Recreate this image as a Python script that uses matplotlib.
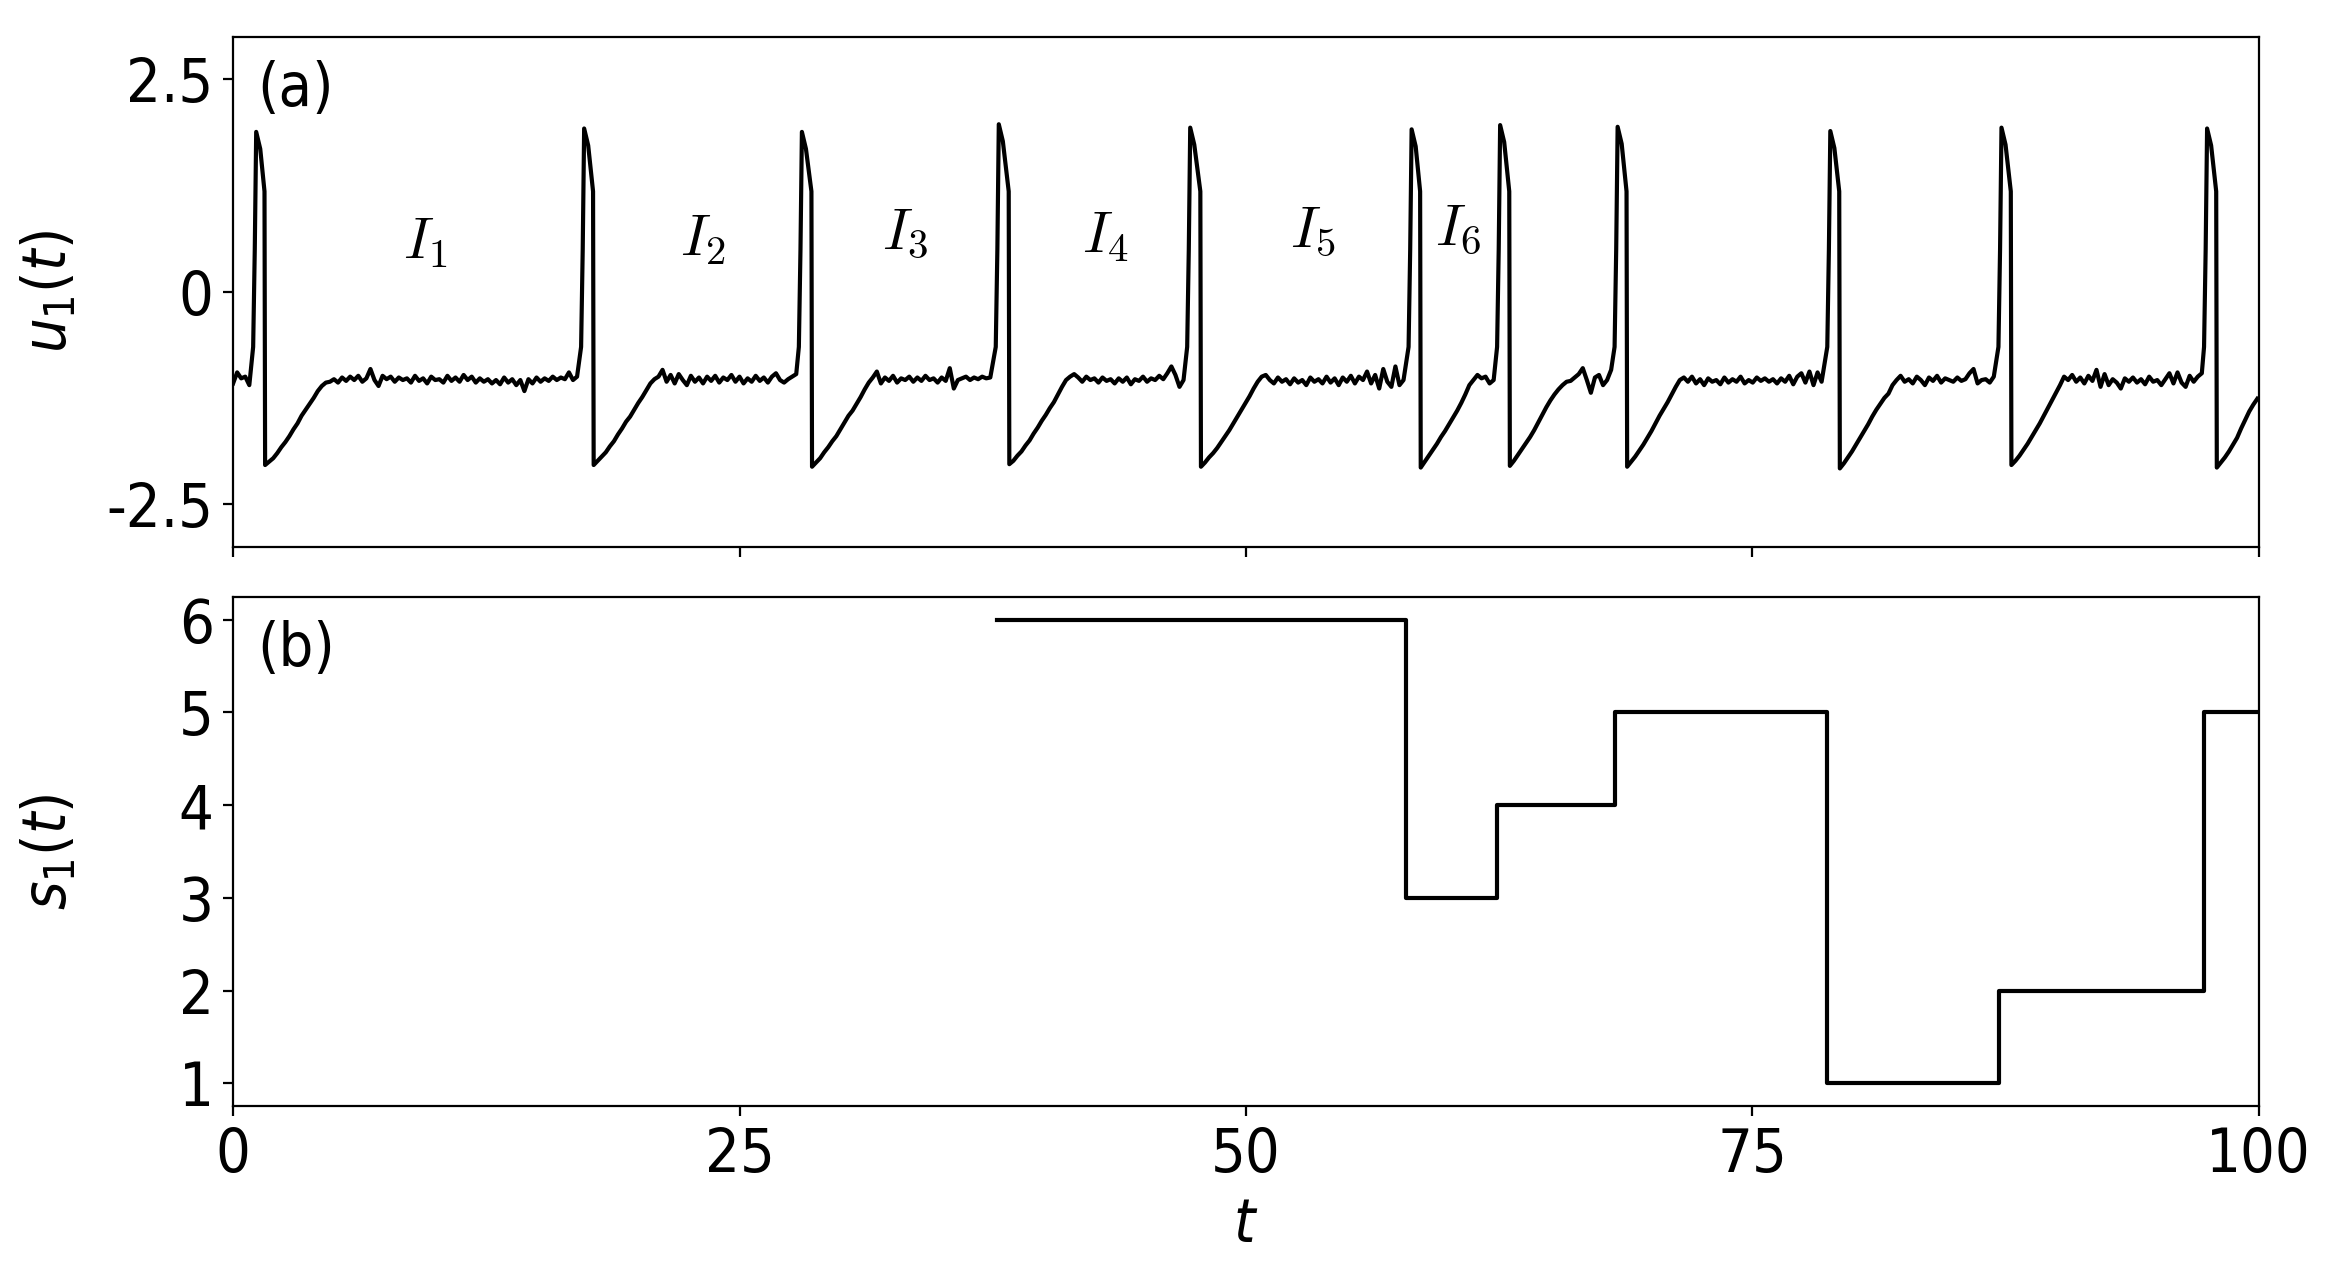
import numpy as np
import matplotlib.pyplot as plt

plt.rcParams['font.family'] = ['DejaVu Sans']
plt.rcParams['font.stretch'] = 'condensed'
plt.rcParams['font.size'] = 22
plt.rcParams['mathtext.fontset'] = 'dejavusans'

# panel (a): spikes of u1 -- peak time, peak value, time of the fast drop
peak_t = [1.14, 17.33, 28.08, 37.80, 47.25, 58.18, 62.55, 68.35, 78.85, 87.30, 97.45]
peak_u = [1.88, 1.92, 1.88, 1.97, 1.93, 1.91, 1.96, 1.94, 1.89, 1.93, 1.92]
drop_t = [1.58, 17.80, 28.58, 38.32, 47.78, 58.63, 63.03, 68.82, 79.32, 87.79, 97.93]

# u1 read every 0.2 time units, in hundredths
step = 0.2
lead_u = [-108, -95, -102, -100, -110]  # t = 0 .. 0.8
after_u = [
    [-204, -200, -196, -190, -183, -177, -170, -162, -155, -146, -139, -132, -125, -117, -111, -107,
     -106, -103, -107, -101, -105, -100, -104, -99, -106, -102,
     -91, -104, -111, -99, -103, -100, -106, -101, -104, -102,
     -107, -99, -105, -102, -108, -100, -104, -103, -107, -99,
     -105, -101, -106, -98, -104, -100, -107, -102, -106, -103,
     -108, -104, -109, -101, -107, -103, -110, -104, -117, -103,
     -108, -101, -106, -102, -105, -100, -104, -101, -103, -95,
     -104, -100],
    [-204, -199, -194, -189, -182, -176, -168, -161, -153, -147, -139, -131, -124, -116, -108, -103,
     -100, -92, -106, -98, -108, -97, -104, -110, -99, -106,
     -101, -108, -100, -105, -99, -107, -101, -104, -98, -106,
     -100, -108, -102, -106, -99, -105, -101, -107, -100, -96,
     -104, -107, -103, -100, -97],
    [-206, -201, -196, -189, -183, -176, -170, -162, -154, -146, -140, -132, -124, -115, -107, -101,
     -94, -108, -101, -105, -99, -107, -102, -104, -100, -106,
     -101, -105, -99, -104, -102, -107, -101, -105, -90, -114,
     -104, -102, -100, -104, -101, -103, -100, -102, -101],
    [-203, -199, -193, -188, -181, -175, -167, -160, -152, -145, -137, -130, -121, -112, -104, -100,
     -97, -101, -106, -100, -104, -102, -107, -101, -105, -103,
     -108, -102, -106, -101, -109, -103, -105, -100, -106, -102,
     -104, -99, -103, -96, -88, -98, -112, -104],
    [-206, -201, -195, -190, -184, -177, -170, -163, -155, -147, -139, -131, -123, -114, -106, -100,
     -98, -104, -108, -101, -106, -103, -109, -102, -107, -104,
     -110, -101, -106, -103, -108, -100, -107, -102, -110, -101,
     -106, -99, -108, -100, -104, -94, -108, -98, -114, -91,
     -106, -112, -88, -110, -104],
    [-207, -200, -193, -186, -179, -171, -164, -156, -148, -140, -131, -121, -110, -104, -98, -102,
     -100, -108, -104],
    [-205, -199, -192, -185, -178, -171, -163, -154, -145, -136, -128, -121, -115, -110, -106, -105,
     -101, -97, -90, -104, -119, -101, -98, -110, -104, -92],
    [-206, -200, -194, -187, -180, -172, -164, -155, -146, -138, -130, -121, -112, -104,
     -101, -106, -100, -108, -103, -110, -102, -106, -104, -109,
     -101, -107, -103, -106, -100, -108, -104, -107, -101, -105,
     -102, -106, -103, -108, -102, -106, -99, -109, -100, -96,
     -107, -94, -110, -95, -106],
    [-208, -202, -195, -188, -180, -172, -164, -156, -147, -139, -132, -125, -120, -110, -104,
     -99, -106, -103, -108, -100, -104, -110, -101, -105, -99,
     -107, -102, -104, -106, -101, -105, -103, -96, -91, -108,
     -104, -103, -107, -100],
    [-204, -199, -193, -186, -179, -171, -163, -155, -146, -137, -128, -119, -110, -100,
     -104, -98, -106, -101, -108, -99, -105, -92, -112, -97,
     -110, -103, -107, -114, -102, -106, -101, -107, -103, -109,
     -100, -106, -104, -110, -103, -96, -108, -95, -107, -112,
     -99, -106, -100, -96],
    [-207, -201, -195, -188, -180, -172, -161, -151, -141, -133, -126],
]

# panel (b): s1 is constant between these times
s_edges = [37.7, 57.9, 62.4, 68.2, 78.7, 87.2, 97.3, 100.0]
s_vals = [6, 3, 4, 5, 1, 2, 5]

interval_names = ['$I_1$', '$I_2$', '$I_3$', '$I_4$', '$I_5$', '$I_6$']
interval_t = [9.5, 23.2, 33.2, 43.05, 53.3, 60.5]
interval_u = [0.59, 0.62, 0.69, 0.66, 0.72, 0.74]

# assemble the u1 trace
tt = list(step * np.arange(len(lead_u)))
uu = [v / 100 for v in lead_u]
for pk, pu, dr, seg in zip(peak_t, peak_u, drop_t, after_u):
    tt += [pk - 0.15, pk - 0.07, pk, pk + 0.2, dr - 0.03]
    uu += [-0.65, 0.5, pu, pu - 0.2, 1.18]
    seg = np.array(seg) / 100
    tt += list(dr + step * np.arange(len(seg)))
    uu += list(seg)

fig, (ax1, ax2) = plt.subplots(2, 1, sharex=True, figsize=(11.655, 6.33), dpi=200)
fig.subplots_adjust(left=0.1, right=0.969, top=0.971, bottom=0.126, hspace=0.098)

ax1.plot(tt, uu, color='k', lw=1.5)
ax1.set_ylim(-3, 3)
ax1.set_yticks([-2.5, 0, 2.5], ['-2.5', '0', '2.5'])
ax1.set_ylabel('$u_1(t)$')
ax1.yaxis.set_label_coords(-0.076, 0.5)
ax1.text(0.012, 0.955, '(a)', transform=ax1.transAxes, va='top', ha='left')
for name, x, y in zip(interval_names, interval_t, interval_u):
    ax1.text(x, y, name, ha='center', va='center', math_fontfamily='cm', fontsize=21)

ax2.step(s_edges, s_vals + [s_vals[-1]], where='post', color='k', lw=1.5)
ax2.set_xlim(0, 100)
ax2.set_xticks([0, 25, 50, 75, 100])
ax2.set_yticks([1, 2, 3, 4, 5, 6])
ax2.set_ylabel('$s_1(t)$')
ax2.yaxis.set_label_coords(-0.076, 0.5)
ax2.set_xlabel('$t$')
ax2.text(0.012, 0.955, '(b)', transform=ax2.transAxes, va='top', ha='left')

fig.savefig('out.png', dpi=200)
